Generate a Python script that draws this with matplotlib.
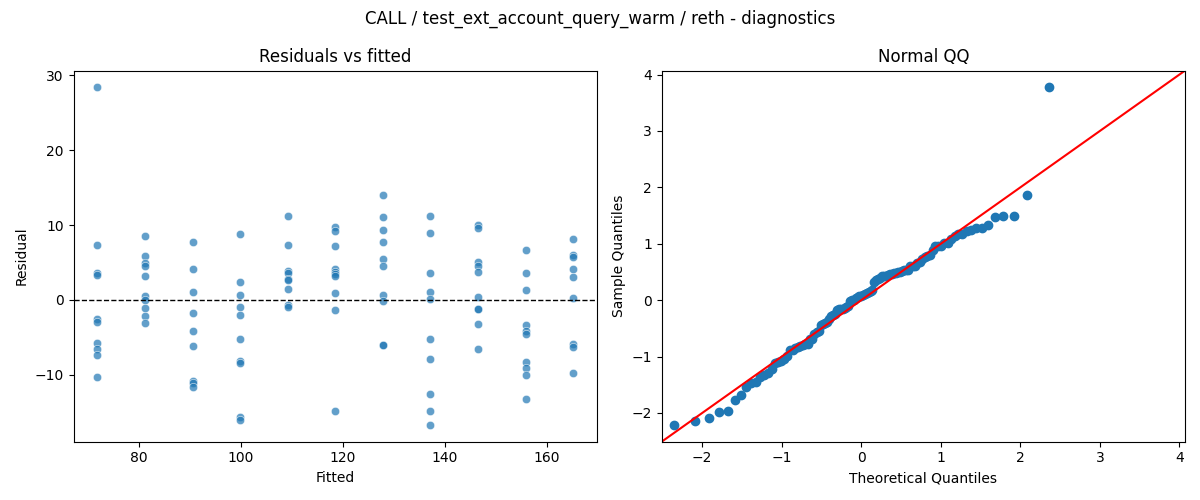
import numpy as np
import matplotlib
matplotlib.use("Agg")
import matplotlib.pyplot as plt
import seaborn as sns
from statistics import NormalDist

# fitted value of each group, and the residuals
fitted_levels = [71.8, 81.1, 90.5, 99.8, 109.1, 118.5, 127.8, 137.1, 146.5, 155.8, 165.1]
resid_groups = [
    [28.4, 7.3, 3.6, 3.3, -2.5, -2.9, -5.8, -6.6, -7.4, -10.3],
    [8.6, 5.9, 5.0, 4.6, 3.2, 0.55, 0.0, -1.1, -2.1, -3.1],
    [7.7, 4.1, 1.0, -1.8, -4.2, -6.2, -10.9, -11.1, -11.6],
    [8.8, 2.4, 0.6, -0.95, -1.95, -5.2, -8.1, -8.4, -15.7, -16.1],
    [11.2, 7.3, 3.9, 3.6, 2.85, 2.65, 1.4, -0.7, -1.0],
    [9.7, 9.2, 7.2, 4.1, 3.75, 3.4, 3.2, 0.9, -1.3, -14.9],
    [14.0, 11.1, 9.4, 7.7, 5.5, 4.6, 0.7, -0.15, -6.0, -6.05],
    [11.2, 8.9, 3.55, 1.05, 0.1, -5.2, -7.9, -12.6, -14.8, -16.7],
    [10.0, 9.6, 5.05, 4.6, 3.75, 0.4, -1.15, -1.2, -3.2, -6.6],
    [6.7, 3.55, 1.3, -3.35, -4.1, -4.5, -8.3, -9.15, -10.0, -13.25],
    [8.2, 6.0, 5.75, 4.1, 3.0, 0.25, -5.85, -6.35, -9.75],
]

fitted = np.concatenate([[f] * len(g) for f, g in zip(fitted_levels, resid_groups)])
resid = np.concatenate([np.array(g, dtype=float) for g in resid_groups])

fig, axes = plt.subplots(1, 2, figsize=(12, 5), dpi=100)

ax = axes[0]
sns.scatterplot(x=fitted, y=resid, ax=ax, alpha=0.7)
ax.axhline(0, color="black", linestyle="--", linewidth=1)
ax.set_title("Residuals vs fitted")
ax.set_xlabel("Fitted")
ax.set_ylabel("Residual")

# normal QQ of standardised residuals
ax = axes[1]
z = np.sort((resid - resid.mean()) / resid.std())
n = len(z)
nd = NormalDist()
theo = np.array([nd.inv_cdf(i / (n + 1)) for i in range(1, n + 1)])
ax.plot(theo, z, marker="o", linestyle="None", color="C0")
lims = [-2.51, 4.07]
ax.plot(lims, lims, "r-")
ax.set_xlim(lims)
ax.set_ylim(lims)
ax.set_title("Normal QQ")
ax.set_xlabel("Theoretical Quantiles")
ax.set_ylabel("Sample Quantiles")

fig.suptitle("CALL / test_ext_account_query_warm / reth - diagnostics")
fig.tight_layout()
fig.savefig("out.png")
